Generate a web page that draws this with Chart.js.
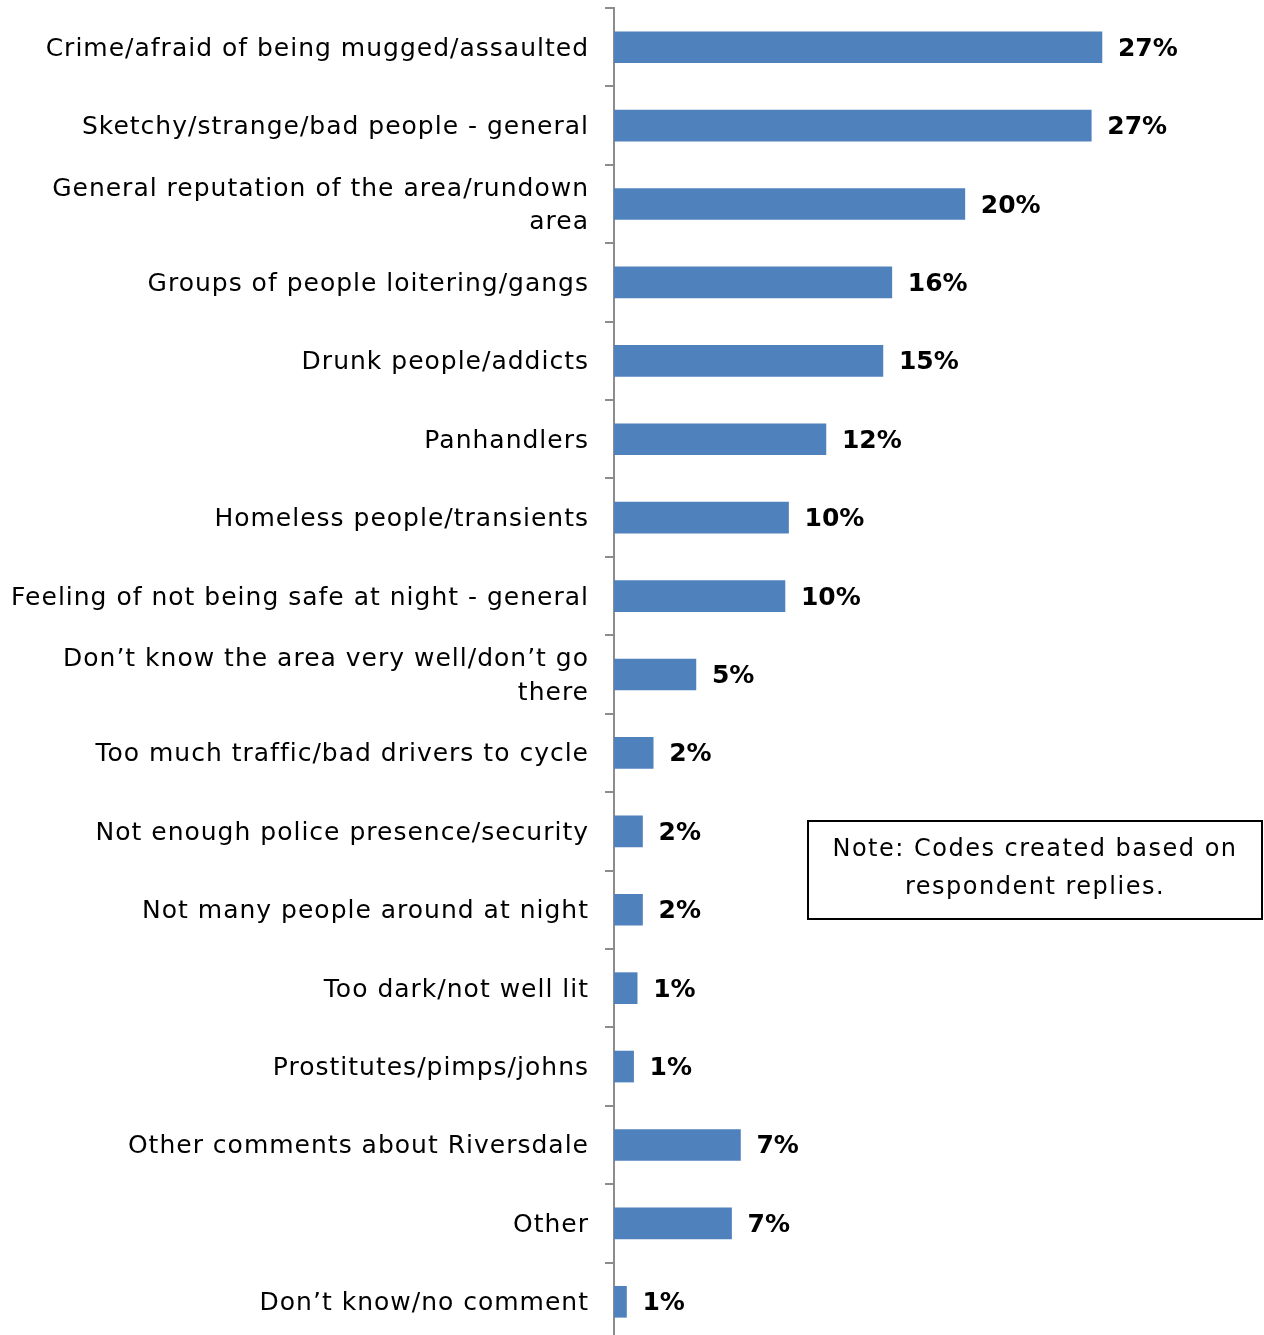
<!DOCTYPE html>
<html>
<head>
<meta charset="utf-8">
<script src="https://cdn.jsdelivr.net/npm/chart.js@4.4.1/dist/chart.umd.min.js"></script>
<style>
  html, body { margin: 0; padding: 0; background: #fff; overflow: hidden; }
  canvas { display: block; }
</style>
</head>
<body>
<canvas id="reasonsChart" width="1264" height="1341"></canvas>
<script>
// reasons given for feeling unsafe, share of respondents (%)
const categories = [
    "Crime/afraid of being mugged/assaulted",
    "Sketchy/strange/bad people - general",
    ["General reputation of the area/rundown", "area"],
    "Groups of people loitering/gangs",
    "Drunk people/addicts",
    "Panhandlers",
    "Homeless people/transients",
    "Feeling of not being safe at night - general",
    ["Don\u2019t know the area very well/don\u2019t go", "there"],
    "Too much traffic/bad drivers to cycle",
    "Not enough police presence/security",
    "Not many people around at night",
    "Too dark/not well lit",
    "Prostitutes/pimps/johns",
    "Other comments about Riversdale",
    "Other",
    "Don\u2019t know/no comment",
];
const percentages = [27.4, 26.8, 19.7, 15.6, 15.1, 11.9, 9.8, 9.6, 4.6, 2.2, 1.6, 1.6, 1.3, 1.1, 7.1, 6.6, 0.7];
const noteLines = ["Note: Codes created based on", "respondent replies."];

const FONT = "'DejaVu Sans', sans-serif";
const BAR_BLUE = "#4f81bd";
const WIDE_SPACING = "1px";

// the category text is set a little wider than the default spacing
const letterSpacing = {
    id: "letterSpacing",
    beforeLayout(chart) { chart.ctx.letterSpacing = WIDE_SPACING; },
    beforeDraw(chart) { chart.ctx.letterSpacing = WIDE_SPACING; },
};

// bold value labels just past the end of each bar
const valueLabels = {
    id: "valueLabels",
    afterDatasetsDraw(chart) {
        const ctx = chart.ctx;
        const meta = chart.getDatasetMeta(0);
        ctx.save();
        ctx.letterSpacing = "0px";
        ctx.font = `bold 25px ${FONT}`;
        ctx.fillStyle = "#000";
        ctx.textAlign = "left";
        ctx.textBaseline = "middle";
        meta.data.forEach((bar, i) => {
            ctx.fillText(Math.round(percentages[i]) + "%", bar.x + 16, bar.y + 2);
        });
        ctx.restore();
    },
};

// boxed note on the right side
const noteBox = {
    id: "noteBox",
    afterDraw(chart) {
        const ctx = chart.ctx;
        const x = 808, y = 821, w = 454, h = 98;
        ctx.save();
        ctx.strokeStyle = "#000";
        ctx.lineWidth = 2;
        ctx.strokeRect(x, y, w, h);
        ctx.letterSpacing = "1.5px";
        ctx.font = `24px ${FONT}`;
        ctx.fillStyle = "#000";
        ctx.textAlign = "center";
        ctx.textBaseline = "middle";
        noteLines.forEach((line, i) => ctx.fillText(line, x + w / 2, y + 29 + i * 38));
        ctx.restore();
    },
};

new Chart(document.getElementById("reasonsChart").getContext("2d"), {
    type: "bar",
    data: {
        labels: categories,
        datasets: [{
            data: percentages,
            backgroundColor: BAR_BLUE,
            borderWidth: 0,
            barThickness: 31,
        }],
    },
    options: {
        indexAxis: "y",
        responsive: false,
        animation: false,
        layout: { padding: { top: 8, right: 0, bottom: 0, left: 0 } },
        plugins: {
            legend: { display: false },
            tooltip: { enabled: false },
        },
        scales: {
            x: {
                display: false,
                min: 0,
                max: 36.5,
            },
            y: {
                afterFit: (scale) => {
                    scale.width = 614;
                    scale.paddingTop = 0;
                    scale.paddingBottom = 0;
                },
                grid: {
                    drawOnChartArea: false,
                    drawTicks: true,
                    tickLength: 9,
                    color: "#8c8c8c",
                    lineWidth: 2,
                    offset: true,
                },
                border: { display: true, color: "#8c8c8c", width: 2 },
                ticks: {
                    color: "#000",
                    padding: 16,
                    autoSkip: false,
                    labelOffset: 2,
                    font: { family: FONT, size: 25, lineHeight: 1.34 },
                },
            },
        },
    },
    plugins: [letterSpacing, valueLabels, noteBox],
});
</script>
</body>
</html>
